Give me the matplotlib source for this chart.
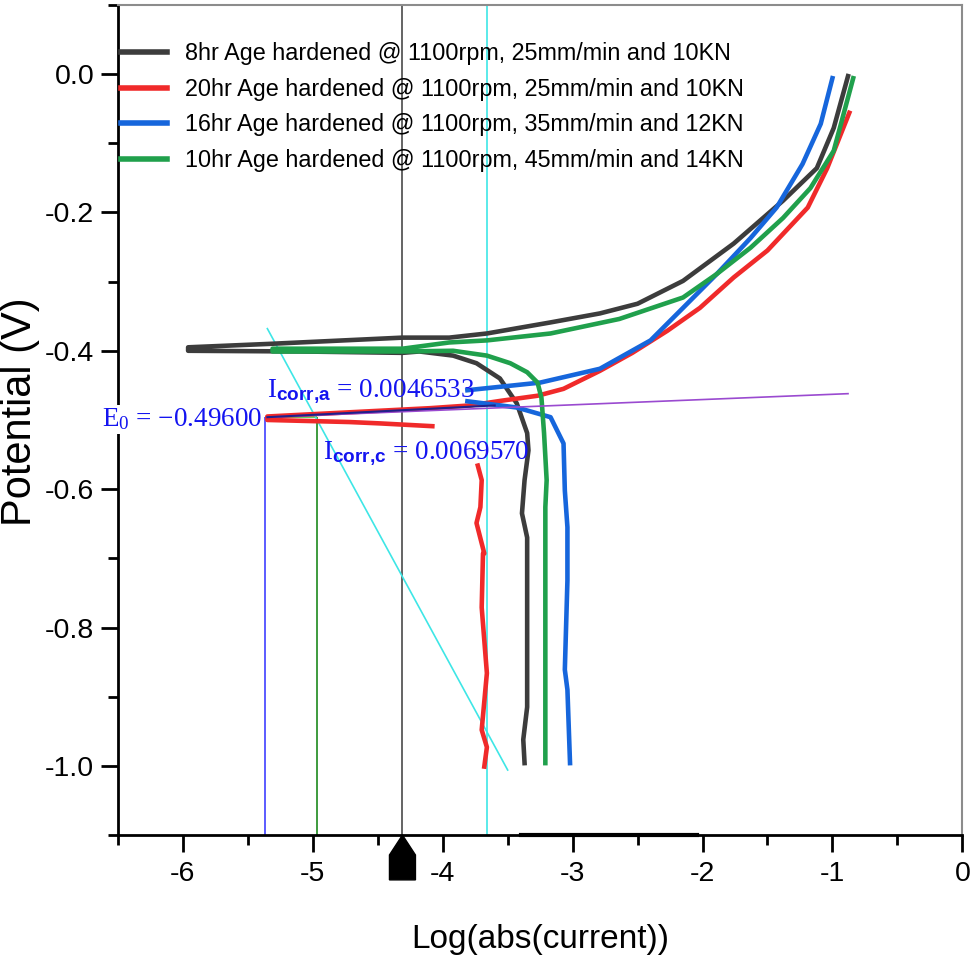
import numpy as np
import matplotlib
matplotlib.use("Agg")
import matplotlib.pyplot as plt
from matplotlib.patches import Polygon

plt.rcParams['font.family'] = ['Liberation Sans', 'DejaVu Sans']
plt.rcParams['mathtext.fontset'] = 'custom'
plt.rcParams['mathtext.rm'] = 'Liberation Serif'
plt.rcParams['mathtext.it'] = 'Liberation Serif:italic'
plt.rcParams['mathtext.bf'] = 'Liberation Sans:bold'

# ---- data: log(|i|) and potential (V) ----
labels = ['8hr Age hardened @ 1100rpm, 25mm/min and 10KN',
          '20hr Age hardened @ 1100rpm, 25mm/min and 10KN',
          '16hr Age hardened @ 1100rpm, 35mm/min and 12KN',
          '10hr Age hardened @ 1100rpm, 45mm/min and 14KN']
colors = ['#3c3c3c', '#f02a2a', '#1666dc', '#20a04c']

# 8hr  (cathodic branch from -1.0 V, nose, then anodic branch)
black_x = [-3.37, -3.38, -3.35, -3.35, -3.39, -3.37, -3.34, -3.35, -3.43, -3.56, -3.74,
           -3.92, -4.18, -4.31, -5.10, -5.96, -5.96, -5.33, -4.31, -3.95, -3.66, -3.17,
           -2.79, -2.50, -2.15, -1.76, -1.38, -1.12, -0.99, -0.88]
black_y = [-0.996, -0.962, -0.915, -0.670, -0.635, -0.587, -0.544, -0.519, -0.476, -0.440, -0.418,
           -0.407, -0.401, -0.403, -0.401, -0.400, -0.395, -0.390, -0.381, -0.381, -0.375, -0.359,
           -0.346, -0.332, -0.299, -0.245, -0.183, -0.136, -0.078, -0.003]

# 20hr  cathodic piece, then tail / nose / anodic piece
red_cat_x = [-3.68, -3.66, -3.70, -3.66, -3.70, -3.69, -3.68, -3.74, -3.71, -3.70, -3.73]
red_cat_y = [-1.001, -0.973, -0.948, -0.866, -0.771, -0.693, -0.693, -0.649, -0.626, -0.587, -0.566]
red_an_x = [-4.08, -4.48, -4.72, -5.35, -5.35, -4.10, -3.79, -3.54, -3.27, -3.07, -2.79,
            -2.54, -2.27, -2.02, -1.76, -1.50, -1.19, -1.04, -0.87]
red_an_y = [-0.509, -0.505, -0.503, -0.500, -0.495, -0.483, -0.479, -0.472, -0.465, -0.455, -0.429,
            -0.403, -0.371, -0.338, -0.294, -0.255, -0.193, -0.136, -0.056]

# 16hr  cathodic piece, anodic piece
blue_cat_x = [-3.02, -3.04, -3.06, -3.04, -3.04, -3.06, -3.07, -3.17, -3.43, -3.81]
blue_cat_y = [-0.996, -0.890, -0.861, -0.732, -0.655, -0.602, -0.534, -0.496, -0.482, -0.473]
blue_an_x = [-3.81, -3.25, -2.79, -2.40, -2.15, -1.89, -1.63, -1.43, -1.23, -1.09, -1.00]
blue_an_y = [-0.457, -0.446, -0.426, -0.385, -0.338, -0.289, -0.237, -0.193, -0.130, -0.072, -0.006]

# 10hr
green_x = [-3.21, -3.21, -3.20, -3.22, -3.24, -3.27, -3.35, -3.48, -3.66, -3.92, -4.31,
           -5.31, -5.31, -4.31, -3.95, -3.66, -3.17, -2.64, -2.15, -1.89, -1.63, -1.38,
           -1.17, -0.99, -0.84]
green_y = [-0.996, -0.626, -0.587, -0.519, -0.468, -0.446, -0.431, -0.418, -0.407, -0.400, -0.401,
           -0.401, -0.397, -0.397, -0.388, -0.385, -0.375, -0.354, -0.323, -0.289, -0.251, -0.208,
           -0.165, -0.111, -0.006]

# Tafel analysis marks
e0 = -0.496
e0_text = 'E$_0$ = \u22120.49600'
icorr_a_text = 'I$_{\\mathbf{corr{,}a}}$ = 0.0046533'
icorr_c_text = 'I$_{\\mathbf{corr{,}c}}$ = 0.0069570'
x_blue_drop = -5.37
x_green_drop = -4.97
x_gray = -4.31
x_cyan = -3.66
cath_tafel_x = [-5.35, -3.50]
cath_tafel_y = [-0.368, -1.006]
an_tafel_x = [-5.35, -0.88]
an_tafel_y = [-0.496, -0.462]
navy_x = [-5.35, -3.60]
navy_y = [-0.496, -0.479]

xticks = [-6, -5, -4, -3, -2, -1, 0]
yticks = [0.0, -0.2, -0.4, -0.6, -0.8, -1.0]

fig = plt.figure(figsize=(9.75, 9.71), dpi=100)
ax = fig.add_axes([0.121, 0.140, 0.866, 0.855])

lw = 3.3
# reference lines first
ax.axvline(x_gray, color='#4a4a4a', lw=1.2, zorder=1)
ax.axvline(x_cyan, color='#3ee6e6', lw=1.2, zorder=1)
ax.vlines(x_blue_drop, -1.1, e0, color='#4040ff', lw=1.2, zorder=1)
ax.vlines(x_green_drop, -1.1, e0, color='#1e8a1e', lw=1.2, zorder=1)
ax.hlines(e0, x_blue_drop, x_green_drop, color='#40d040', lw=1.2, zorder=1)
ax.plot(cath_tafel_x, cath_tafel_y, color='#3ee6e6', lw=1.2, zorder=1)

h1, = ax.plot(black_x, black_y, color=colors[0], lw=lw, label=labels[0], zorder=3)
h2, = ax.plot(red_an_x, red_an_y, color=colors[1], lw=lw, label=labels[1], zorder=3)
ax.plot(red_cat_x, red_cat_y, color=colors[1], lw=lw, zorder=3)
h3, = ax.plot(blue_an_x, blue_an_y, color=colors[2], lw=lw, label=labels[2], zorder=3)
ax.plot(blue_cat_x, blue_cat_y, color=colors[2], lw=lw, zorder=3)
h4, = ax.plot(green_x, green_y, color=colors[3], lw=lw, label=labels[3], zorder=3)

ax.plot(an_tafel_x, an_tafel_y, color='#9a4ad0', lw=1.2, zorder=4)
ax.plot(navy_x, navy_y, color='#20208a', lw=1.5, zorder=4)

serif = ['Liberation Serif', 'DejaVu Serif']
ax.text(-5.39, -0.509, e0_text, color='#1414f0', fontsize=19.5, family=serif,
        ha='right', va='baseline', zorder=7, clip_on=False,
        bbox=dict(facecolor='white', edgecolor='none', pad=1))
ax.text(-5.35, -0.4675, icorr_a_text, color='#1414f0', fontsize=19.5, family=serif,
        ha='left', va='baseline', zorder=5)
ax.text(-4.92, -0.556, icorr_c_text, color='#1414f0', fontsize=19.5, family=serif,
        ha='left', va='baseline', zorder=5)

ax.set_xlim(-6.5, 0)
ax.set_ylim(-1.1, 0.1)
ax.set_xticks(xticks)
ax.set_xticklabels([str(t) for t in xticks])
ax.set_xticks(np.arange(-6.5, 0.01, 0.5), minor=True)
ax.set_yticks(yticks)
ax.set_yticklabels(['%.1f' % t for t in yticks])
ax.set_yticks(np.arange(-1.1, 0.11, 0.1), minor=True)
ax.tick_params(axis='both', which='major', labelsize=20.5, length=12, width=2, direction='out')
ax.tick_params(axis='both', which='minor', length=7, width=2, direction='out')
ax.tick_params(axis='x', pad=7)
ax.tick_params(axis='y', pad=5)

for s in ['left', 'bottom']:
    ax.spines[s].set_linewidth(2)
    ax.spines[s].set_color('black')
for s in ['top', 'right']:
    ax.spines[s].set_linewidth(1.5)
    ax.spines[s].set_color('#8c8c8c')

# thick segment on the bottom axis and the marker under the gray line
ax.plot([-3.40, -2.04], [-1.1, -1.1], color='black', lw=3, clip_on=False, zorder=6)
tr = ax.get_xaxis_transform()
arrow = Polygon([[x_gray, 0.0], [x_gray + 0.1, -0.024], [x_gray + 0.1, -0.054],
                 [x_gray - 0.1, -0.054], [x_gray - 0.1, -0.024]],
                closed=True, color='black', transform=tr, clip_on=False, zorder=6)
ax.add_patch(arrow)

ax.set_xlabel('Log(abs(current))', fontsize=24, labelpad=26)
ax.set_ylabel('Potential (V)', fontsize=30)
ax.yaxis.set_label_coords(-0.0925, 0.51)

ax.legend(handles=[h1, h2, h3, h4], loc='upper left', bbox_to_anchor=(0.003, 0.955),
          frameon=False, fontsize=16.8, handlelength=2.0, handletextpad=0.75,
          labelspacing=0.54, borderpad=0, borderaxespad=0)
for ln in ax.get_legend().get_lines():
    ln.set_linewidth(4)

fig.savefig('out.png', dpi=100)
